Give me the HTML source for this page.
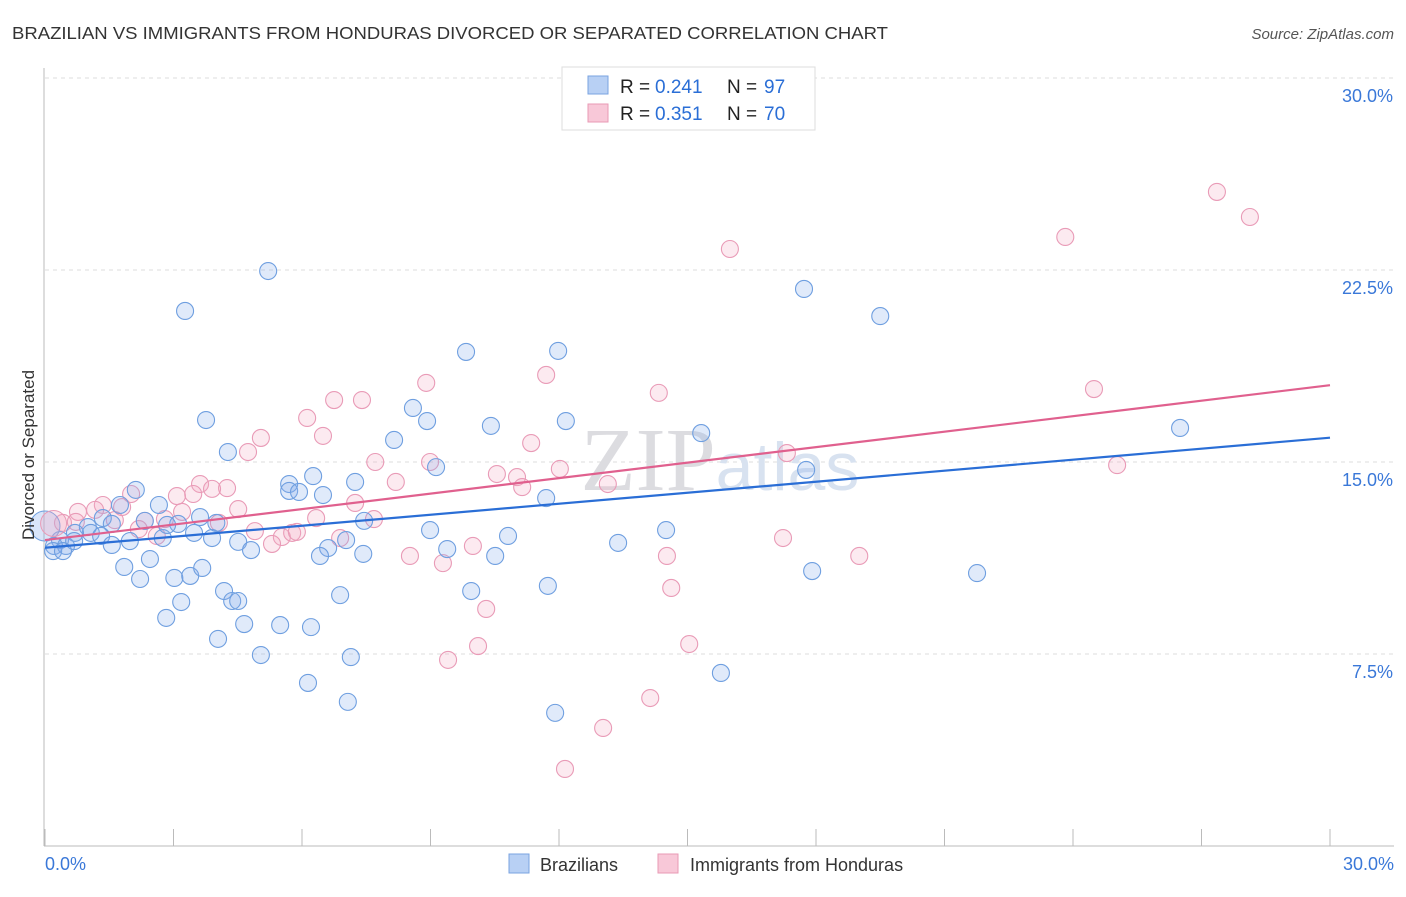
<!DOCTYPE html>
<html><head><meta charset="utf-8"><style>
body{margin:0;background:#fff;font-family:"Liberation Sans",sans-serif;}
svg text{font-family:"Liberation Sans",sans-serif;}
</style></head><body>
<svg id="chart" width="1406" height="892" xmlns="http://www.w3.org/2000/svg">
<text x="12" y="39" font-size="17.5" fill="#333" textLength="876" lengthAdjust="spacingAndGlyphs">BRAZILIAN VS IMMIGRANTS FROM HONDURAS DIVORCED OR SEPARATED CORRELATION CHART</text>
<text x="1394" y="39" font-size="15" fill="#555" text-anchor="end" font-style="italic">Source: ZipAtlas.com</text>
<g id="grid"></g>
<text x="720" y="490" font-size="90" text-anchor="middle" fill="#e8e8ec"><tspan font-family="Liberation Serif" fill="#dcdce0">ZIP</tspan><tspan font-size="68" fill="#d8e2f0">atlas</tspan></text>
<g id="marks"></g>
<text transform="translate(34,455) rotate(-90)" font-size="17" fill="#333" text-anchor="middle">Divorced or Separated</text>
<g>
<rect x="562" y="67" width="253" height="63" fill="#fff" stroke="#ddd"/>
<rect x="588" y="76" width="20" height="18" fill="#b8d0f4" stroke="#7aa3e0"/>
<rect x="588" y="104" width="20" height="18" fill="#f8c8d8" stroke="#e89ab5"/>
<text x="620" y="93" font-size="19" fill="#222">R =</text>
<text x="655" y="93" font-size="19" fill="#2a6ed6">0.241</text>
<text x="727" y="93" font-size="19" fill="#222">N =</text>
<text x="764" y="93" font-size="19" fill="#2a6ed6">97</text>
<text x="620" y="120" font-size="19" fill="#222">R =</text>
<text x="655" y="120" font-size="19" fill="#2a6ed6">0.351</text>
<text x="727" y="120" font-size="19" fill="#222">N =</text>
<text x="764" y="120" font-size="19" fill="#2a6ed6">70</text>
</g>
<g>
<rect x="509" y="854" width="20" height="19" fill="#b8d0f4" stroke="#7aa3e0"/>
<text x="540" y="871" font-size="18" fill="#333">Brazilians</text>
<rect x="658" y="854" width="20" height="19" fill="#f8c8d8" stroke="#e89ab5"/>
<text x="690" y="871" font-size="18" fill="#333">Immigrants from Honduras</text>
</g>
</svg>
<script>
const yTicks=[7.5,15,22.5,30];
const xTickVals=[0,3,6,9,12,15,18,21,24,27,30];
const blueX=[5.21,3.27,17.72,19.50,9.83,11.98,26.50,3.76,8.59,8.92,10.41,12.16,15.32,8.15,4.27,9.13,17.77,6.26,7.24,5.70,5.70,5.93,6.49,2.12,2.66,11.70,1.75,2.33,3.62,4.00,3.11,7.45,8.99,14.50,10.81,7.03,1.00,1.35,1.56,1.07,0.70,0.35,0.21,0.49,0.19,0.42,0.68,1.31,1.98,1.56,2.75,2.85,3.48,3.90,4.51,4.81,6.61,7.43,6.42,9.39,10.51,13.38,2.45,1.85,2.22,3.02,3.39,3.67,11.74,17.91,21.76,9.95,4.18,4.37,4.51,3.18,6.89,2.83,4.65,5.49,6.21,4.04,5.04,7.14,6.14,7.07,11.91,15.78];
const blueY=[22.46,20.90,21.76,20.70,19.30,19.34,16.33,16.64,17.11,16.60,16.41,16.60,16.13,15.86,15.39,14.80,14.69,14.45,14.22,14.14,13.87,13.83,13.71,13.91,13.32,13.59,13.32,12.70,12.85,12.62,12.58,12.70,12.34,12.34,12.11,11.95,12.46,12.81,12.58,12.23,12.23,11.95,11.72,11.72,11.52,11.52,11.91,12.11,11.91,11.76,12.03,12.54,12.23,12.03,11.88,11.56,11.64,11.41,11.33,11.60,11.33,11.84,11.21,10.90,10.43,10.47,10.55,10.86,10.16,10.74,10.66,9.96,9.96,9.57,9.57,9.53,9.80,8.91,8.67,8.63,8.55,8.09,7.46,7.38,6.37,5.63,5.20,6.76];
const pinkX=[27.36,28.13,15.99,23.82,24.49,25.03,11.70,8.90,14.33,6.75,7.40,6.12,6.49,5.04,4.74,11.35,17.32,7.71,8.99,12.02,10.55,11.02,11.14,13.14,8.19,3.62,4.25,3.90,3.46,3.08,7.24,4.51,1.35,1.80,2.01,1.17,0.77,0.42,0.72,1.63,2.33,2.80,3.20,4.06,6.33,7.68,2.19,2.61,4.90,5.53,5.77,5.88,5.30,6.89,17.23,9.99,8.52,9.29,14.52,19.01,14.62,10.30,15.04,10.11,9.41,14.13,13.03,12.14];
const pinkY=[25.55,24.57,23.32,23.79,17.85,14.88,18.40,18.09,17.70,17.42,17.42,16.72,16.02,15.94,15.39,15.74,15.35,15.00,15.00,14.73,14.53,14.41,14.02,14.14,14.22,14.14,13.98,13.95,13.75,13.67,13.40,13.16,13.32,13.24,13.75,13.13,13.05,12.62,12.66,12.73,12.70,12.77,13.05,12.62,12.81,12.77,12.38,12.11,12.30,12.07,12.23,12.27,11.80,12.03,12.03,11.72,11.33,11.05,11.33,11.33,10.08,9.26,7.89,7.81,7.27,5.78,4.61,3.01];
const bigBlue=[0,12.5];
const bigPink=[0.2,12.6];
const blueTrend=[11.65,15.95];
const pinkTrend=[11.95,18.0];
const X=v=>45+v*(1285/30);
const Y=v=>846-v*(192/7.5);
const NS="http://www.w3.org/2000/svg";
const grid=document.getElementById('grid');
const marks=document.getElementById('marks');
function mk(t,a,p){const e=document.createElementNS(NS,t);for(const k in a)e.setAttribute(k,a[k]);p.appendChild(e);return e;}
yTicks.forEach(v=>{
  const l=mk('line',{x1:45,x2:1394,y1:Y(v),y2:Y(v),stroke:'#ddd','stroke-dasharray':'4,4'},grid);
  
  
  const t=mk('text',{x:1393,y:Y(v)+24,'font-size':18,fill:'#3a78d8','text-anchor':'end'},grid);
  t.textContent=v.toFixed(1)+'%';
  
  
});
const ax=mk('line',{x1:44,x2:44,y1:68,y2:846,stroke:'#bbb'},grid);


const bx=mk('line',{x1:44,x2:1394,y1:846,y2:846,stroke:'#bbb'},grid);


xTickVals.forEach(v=>{
  const l=mk('line',{x1:X(v),x2:X(v),y1:829,y2:846,stroke:'#bbb'},grid);
  
  
});
[[0,'start',45],[30,'end',1394]].forEach(([v,a,x])=>{
  const t=mk('text',{x:x,y:870,'font-size':18,fill:'#3a78d8','text-anchor':a},grid);
  t.textContent=v.toFixed(1)+'%';
  
  
});
function dots(xs,ys,fill,stroke,name){
  xs.forEach((x,i)=>{
    const c=mk('circle',{cx:X(x),cy:Y(ys[i]),r:8.5,fill:fill,stroke:stroke,'stroke-width':1.1},marks);
    
    
  });
}
dots(pinkX,pinkY,'rgba(244,170,195,0.25)','#e99bb7','honduras-point');
dots(blueX,blueY,'rgba(130,170,235,0.25)','#6f9fe0','brazilian-point');
const b1=mk('circle',{cx:X(bigBlue[0]),cy:Y(bigBlue[1]),r:15,fill:'rgba(130,170,235,0.3)',stroke:'#6f9fe0'},marks);


const b2=mk('circle',{cx:X(bigPink[0]),cy:Y(bigPink[1]),r:13,fill:'rgba(244,170,195,0.3)',stroke:'#e99bb7'},marks);


const t1=mk('line',{x1:X(0),x2:X(30),y1:Y(blueTrend[0]),y2:Y(blueTrend[1]),stroke:'#2a6ed6','stroke-width':2.2},marks);


const t2=mk('line',{x1:X(0),x2:X(30),y1:Y(pinkTrend[0]),y2:Y(pinkTrend[1]),stroke:'#e0608e','stroke-width':2.2},marks);


</script>
</body></html>
